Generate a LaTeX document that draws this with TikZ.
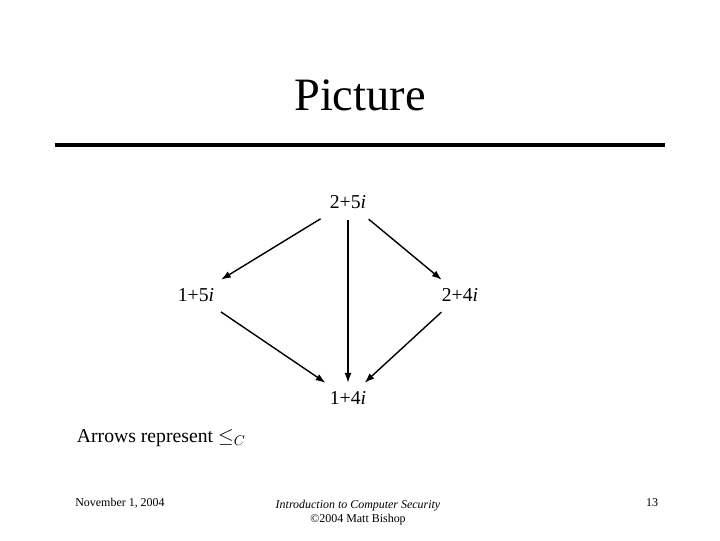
\documentclass[tikz,border=0pt]{standalone}
\usepackage{fontspec}
\setmainfont{Liberation Serif}
\usetikzlibrary{arrows.meta}
\tikzset{
  elem/.style={font=\fontsize{14}{16}\selectfont, inner sep=6pt},
  order/.style={-{Latex[length=7pt,width=5pt]}, line width=1pt},
  foot/.style={font=\fontsize{8.5}{10}\selectfont}
}
\begin{document}
\begin{tikzpicture}[x=0.025cm, y=-0.025cm]
    \useasboundingbox (0,0) rectangle (720,540);

    % Titel
    \node[font=\fontsize{33}{36}\selectfont] (title) at (360,95) {Picture};
    \draw[line width=3pt] (55,145) -- (665,145);

    % Elemente
    \node[elem] (ttf) at (348,202) {2+5\textit{i}};
    \node[elem] (otf) at (196,295) {1+5\textit{i}};
    \node[elem] (ttv) at (460,295) {2+4\textit{i}};
    \node[elem] (otv) at (348,398) {1+4\textit{i}};

    % Relation
    \draw[order, shorten <=2pt] (ttf) -- (otf);
    \draw[order, shorten <=2pt] (ttf) -- (ttv);
    \draw[order, shorten <=2pt] (ttf) -- (otv);
    \draw[order, shorten <=2pt] (otf) -- (otv);
    \draw[order, shorten <=2pt] (ttv) -- (otv);

    % Legende
    \node[font=\fontsize{14}{16}\selectfont, anchor=west] (legend) at (72,438) {Arrows represent $\leq_C$};

    % Fusszeile
    \node[foot] (date) at (120,503) {November 1, 2004};
    \node[foot, align=center] (course) at (358,513) {\textit{Introduction to Computer Security}\\\textcopyright2004 Matt Bishop};
    \node[foot] (page) at (652,503) {13};
\end{tikzpicture}
\end{document}
